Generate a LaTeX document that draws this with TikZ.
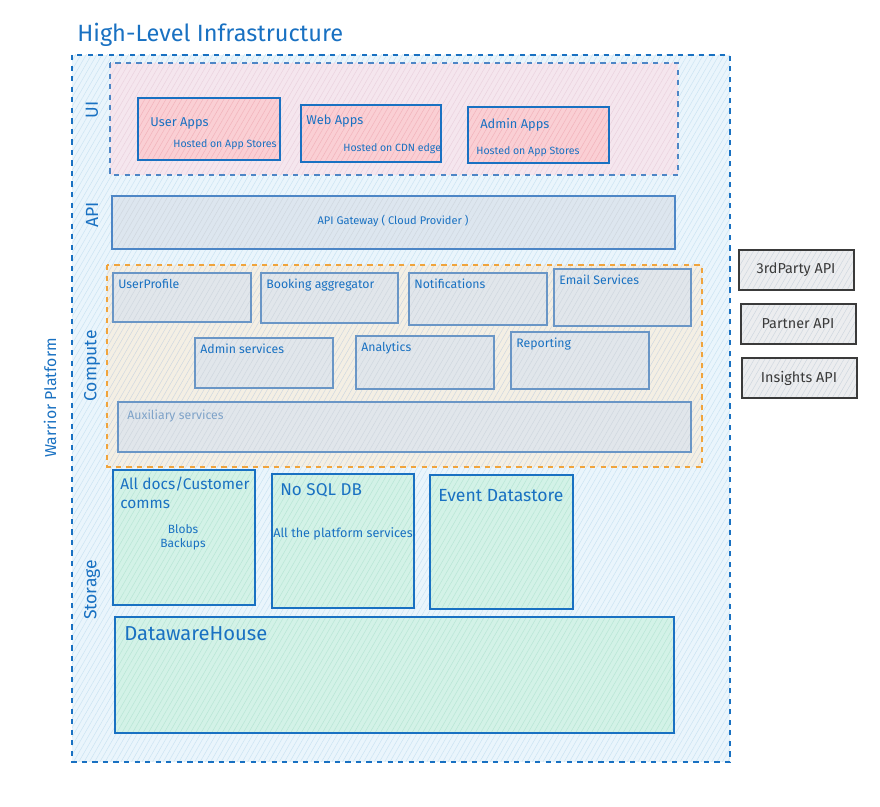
\documentclass[tikz,border=0pt]{standalone}
\usepackage{fontspec}
\setmainfont{Fira Sans}
\usepackage{xcolor}
\usetikzlibrary{patterns.meta}

\definecolor{inkblue}{HTML}{1971C2}
\definecolor{platfill}{HTML}{EAF5FC}
\definecolor{plathatch}{HTML}{CCE4F3}
\definecolor{uifill}{HTML}{F5E6EE}
\definecolor{uihatch}{HTML}{EBD3DF}
\definecolor{appfill}{HTML}{FACFD4}
\definecolor{apphatch}{HTML}{F2B4BC}
\definecolor{apifill}{HTML}{DDE6EF}
\definecolor{apiline}{HTML}{4D86C6}
\definecolor{compfill}{HTML}{F4EFE4}
\definecolor{orangeline}{HTML}{F0A43C}
\definecolor{svcfill}{HTML}{E1E6EB}
\definecolor{svchatch}{HTML}{D0D8E0}
\definecolor{svcline}{HTML}{6A96C6}
\definecolor{auxtext}{HTML}{7FA3C9}
\definecolor{storefill}{HTML}{D3F2E7}
\definecolor{storehatch}{HTML}{B9E6D6}
\definecolor{extfill}{HTML}{ECEDEF}
\definecolor{extline}{HTML}{3A3A3A}

\newcommand\svcfont{\fontsize{7}{8.4}\selectfont}
\newcommand\smallfont{\fontsize{6}{7}\selectfont}

\begin{document}
\begin{tikzpicture}[x=0.02cm,y=-0.02cm,
  paint/.style 2 args={preaction={fill=#1},preaction={pattern={Lines[angle=60,distance=2.6pt,line width=0.3pt]},pattern color=#2}},
  zone/.style={dashed, line width=0.6pt},
  box/.style={draw=inkblue, line width=0.8pt},
  svc/.style={draw=svcline, line width=0.7pt, paint={svcfill}{svchatch}},
  store/.style={box, paint={storefill}{storehatch}},
  app/.style={box, paint={appfill}{apphatch}},
  ext/.style={draw=extline, line width=0.7pt, paint={extfill}{svchatch}},
  lbl/.style={anchor=north west, inner sep=0pt, text=inkblue},
  side/.style={rotate=90, text=inkblue, font=\fontsize{10}{12}\selectfont}]

  \useasboundingbox (0,0) rectangle (880,807);

  \node[anchor=west, inner sep=0pt, text=inkblue, font=\fontsize{13.4}{16}\selectfont] (title) at (77,35) {High-Level Infrastructure};

  % platform and zones
  \draw[zone, draw=inkblue, paint={platfill}{plathatch}] (72,55) rectangle (730,762);
  \node[side, font=\fontsize{9}{11}\selectfont] (platform) at (50,398) {Warrior Platform};
  \draw[zone, draw=apiline, paint={uifill}{uihatch}] (110,63) rectangle (678,175);
  \draw[zone, draw=orangeline, paint={compfill}{svchatch}] (107,265) rectangle (702,467);

  \node[side] (ui) at (92,110) {UI};
  \node[side] (api) at (92,215) {API};
  \node[side] (compute) at (92,366) {Compute};
  \node[side] (storage) at (92,590) {Storage};

  % UI apps
  \foreach \n/\xa/\ya/\xb/\yb/\t/\tx/\ty/\h/\hx/\hy in {
    user/138/98/280/160/User Apps/150/117/Hosted on App Stores/173/139,
    web/301/105/441/162/Web Apps/306/115/Hosted on CDN edge/343/143,
    admin/468/107/609/163/Admin Apps/480/118/Hosted on App Stores/476/146}{
    \draw[app] (\xa,\ya) rectangle (\xb,\yb);
    \node[lbl, font=\fontsize{7.3}{8.7}\selectfont] (\n) at (\tx,\ty) {\t};
    \node[lbl, font=\smallfont] (\n host) at (\hx,\hy) {\h};
  }

  % API gateway
  \draw[box, draw=apiline, paint={apifill}{svchatch}] (112,196) rectangle (675,249);
  \node[text=inkblue, font=\fontsize{6.3}{7.5}\selectfont] (gateway) at (393,221) {API Gateway ( Cloud Provider )};

  % compute services
  \foreach \n/\xa/\ya/\xb/\yb/\t in {
    prof/113/273/251/322/UserProfile,
    book/261/273/398/323/Booking aggregator,
    notif/409/273/547/325/Notifications,
    email/554/269/691/326/Email Services,
    adminsvc/195/338/333/388/Admin services,
    analytics/356/336/494/389/Analytics,
    report/511/332/649/389/Reporting}{
    \draw[svc] (\xa,\ya) rectangle (\xb,\yb);
    \node[lbl, font=\svcfont] (\n) at (\xa+5,\ya+6) {\t};
  }
  \draw[svc] (118,402) rectangle (691,452);
  \node[lbl, text=auxtext, font=\svcfont] (aux) at (127,410) {Auxiliary services};

  % storage
  \draw[store] (113,470) rectangle (255,605);
  \node[lbl, font=\fontsize{8.8}{10.5}\selectfont, align=left] (docs) at (120,477) {All docs/Customer\\comms};
  \node[text=inkblue, font=\fontsize{6.8}{8.2}\selectfont, align=center] (blobs) at (183,537) {Blobs\\Backups};
  \draw[store] (272,474) rectangle (414,608);
  \node[lbl, font=\fontsize{9.7}{11.5}\selectfont] (nosql) at (280,483) {No SQL DB};
  \node[text=inkblue, font=\fontsize{7.2}{8.5}\selectfont] (platsvc) at (343,534) {All the platform services};
  \draw[store] (430,475) rectangle (573,609);
  \node[lbl, font=\fontsize{10}{12}\selectfont] (event) at (438,489) {Event Datastore};
  \draw[store] (115,617) rectangle (674,733);
  \node[lbl, font=\fontsize{11.5}{14}\selectfont] (dwh) at (124,626) {DatawareHouse};

  % external APIs
  \foreach \n/\xa/\ya/\t in {third/739/250/3rdParty API, partner/741/304/Partner API, insights/742/358/Insights API}{
    \draw[ext] (\xa,\ya) rectangle (\xa+115,\ya+40);
    \node[text=extline, font=\fontsize{8.2}{9.5}\selectfont] (\n) at (\xa+57,\ya+20) {\t};
  }
\end{tikzpicture}
\end{document}
